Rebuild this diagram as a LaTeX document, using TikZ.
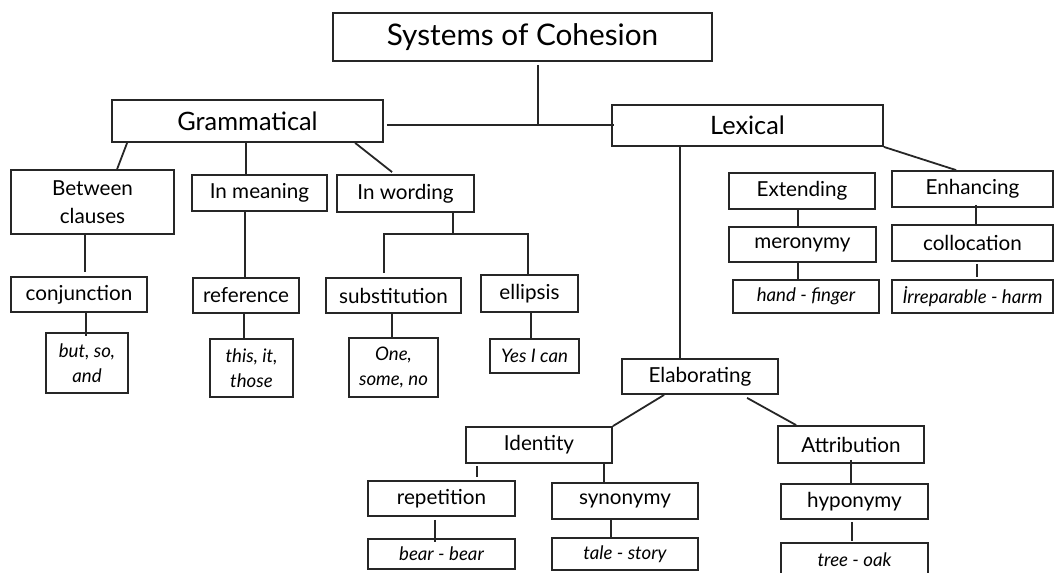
\documentclass[tikz,border=0pt]{standalone}
\usepackage{fontspec}
\setmainfont{Lato}
\usetikzlibrary{calc}
\newcommand\mybox[7]{\node[box,#6,minimum width={(#4-#2)*0.75pt},minimum height={(#5-#3)*0.75pt}] (#1) at ({(#2+#4)/2},{(#3+#5)/2}) {#7};}
\tikzset{
  box/.style={draw=black!85,line width=1.35pt,inner sep=0pt,align=center,font=\fontsize{15.5}{21}\selectfont},
  big/.style={font=\fontsize{19}{23}\selectfont},
  huge/.style={font=\fontsize{22.3}{27}\selectfont},
  ex/.style={font=\fontsize{14}{18.5}\selectfont\itshape},
  link/.style={draw=black!85,line width=1.35pt}
}
\begin{document}
\begin{tikzpicture}[x=0.75pt,y=-0.75pt]
\useasboundingbox (0,0) rectangle (1056,572);
\mybox{title}{333}{13}{712}{61}{huge}{Systems of Cohesion}
\mybox{gram}{112}{100}{383}{142}{big}{Grammatical}
\mybox{lex}{612}{105}{883}{146}{big}{Lexical}
\mybox{betw}{11}{170}{174}{234}{}{Between\\clauses}
\mybox{mean}{192}{175}{327}{211}{}{In meaning}
\mybox{word}{337}{175}{474}{212}{}{In wording}
\mybox{conj}{11}{277}{147}{312}{}{conjunction}
\mybox{buts}{46}{333}{128}{393}{ex}{but, so,\\and}
\mybox{ref}{193}{278}{299}{313}{}{reference}
\mybox{this}{210}{339}{293}{397}{ex}{this, it,\\those}
\mybox{subst}{326}{278}{461}{313}{}{substitution}
\mybox{one}{349}{338}{438}{397}{ex}{One,\\some, no}
\mybox{ell}{481}{275}{578}{312}{}{ellipsis}
\mybox{yes}{490}{339}{579}{373}{ex}{Yes I can}
\mybox{ext}{729}{173}{875}{209}{}{Extending}
\mybox{enh}{892}{171}{1053}{207}{}{Enhancing}
\mybox{mer}{729}{227}{876}{262}{}{meronymy}
\mybox{coll}{892}{225}{1053}{261}{}{collocation}
\mybox{hand}{733}{280}{879}{313}{ex}{hand - finger}
\mybox{irr}{892}{280}{1053}{313}{ex}{İrreparable - harm}
\mybox{elab}{622}{359}{778}{394}{}{Elaborating}
\mybox{iden}{466}{427}{612}{463}{}{Identity}
\mybox{attr}{778}{426}{924}{463}{}{Attribution}
\mybox{rep}{368}{481}{515}{516}{}{repetition}
\mybox{syn}{552}{483}{698}{519}{}{synonymy}
\mybox{hyp}{781}{484}{928}{519}{}{hyponymy}
\mybox{bear}{368}{539}{515}{569}{ex}{bear - bear}
\mybox{tale}{552}{538}{698}{570}{ex}{tale - story}
\mybox{tree}{781}{543}{928}{577}{ex}{tree - oak}
% junction coordinates
\coordinate (j) at (538,125);
\coordinate (wj) at (453,234);
\coordinate (sa) at ($(subst.north west)+(59,0)$);
\coordinate (ea) at ($(ell.north west)+(48,0)$);
% connectors
\draw[link] ($(title.south -| j)+(0,3)$) -- (j);
\draw[link] ($(gram.east |- j)+(3,0)$) -- ($(lex.west |- j)+(3,0)$);
\draw[link] ($(gram.south west)+(16,0)$) -- ($(betw.north west)+(107,0)$);
\draw[link] ($(gram.south west)+(135,0)$) -- ($(mean.north west)+(55,0)$);
\draw[link] ($(gram.south west)+(244,0)$) -- ($(word.north west)+(56,-2)$);
\draw[link] ($(betw.south west)+(75,0)$) -- ($(conj.north west)+(75,-4)$);
\draw[link] ($(conj.south west)+(76,0)$) -- ($(buts.north west)+(41,4)$);
\draw[link] ($(mean.south west)+(54,0)$) -- ($(ref.north west)+(53,0)$);
\draw[link] ($(ref.south west)+(52,0)$) -- ($(this.north west)+(35,0)$);
\draw[link] (word.south -| wj) -- (wj);
\draw[link] ($(sa)+(0,-4)$) -- (sa |- wj) -- (ea |- wj) -- (ea);
\draw[link] ($(subst.south west)+(67,0)$) -- ($(one.north west)+(44,0)$);
\draw[link] ($(ell.south west)+(51,0)$) -- ($(yes.north west)+(42,0)$);
\draw[link] ($(lex.south west)+(69,0)$) -- ($(elab.north west)+(59,2)$);
\draw[link] (lex.south east) -- ($(enh.north west)+(65,0)$);
\draw[link] ($(ext.south west)+(70,0)$) -- ($(mer.north west)+(70,0)$);
\draw[link] ($(mer.south west)+(70,0)$) -- ($(hand.north west)+(66,0)$);
\draw[link] ($(enh.south west)+(85,-3)$) -- ($(coll.north west)+(85,0)$);
\draw[link] ($(coll.south west)+(86,2)$) -- ($(irr.north west)+(86,-2)$);
\draw[link] ($(elab.south west)+(43,0)$) -- (iden.north east);
\draw[link] ($(elab.south west)+(126,3)$) -- ($(attr.north west)+(19,0)$);
\draw[link] ($(iden.south west)+(12,2)$) -- ($(rep.north west)+(110,-3)$);
\draw[link] ($(iden.south west)+(139,0)$) -- ($(syn.north west)+(53,2)$);
\draw[link] ($(syn.south west)+(60,0)$) -- ($(tale.north west)+(60,0)$);
\draw[link] ($(rep.south west)+(68,3)$) -- ($(bear.north west)+(68,4)$);
\draw[link] ($(attr.south west)+(74,-4)$) -- ($(hyp.north west)+(71,0)$);
\draw[link] ($(hyp.south west)+(72,2)$) -- ($(tree.north west)+(72,-1)$);
\end{tikzpicture}
\end{document}
